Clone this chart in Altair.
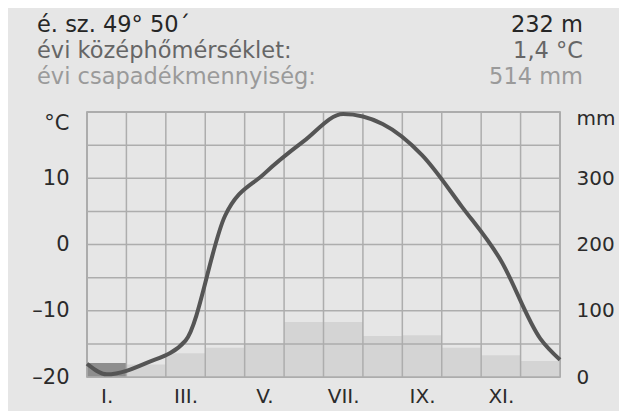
import altair as alt
import pandas as pd

# ---- data ----
month_numbers = list(range(1, 13))
temperature = [-19.6, -17.9, -14.5, 4.3, 10.7, 15.6, 19.7, 18.2, 13.5, 5.8, -2.4, -14.2]
temperature_at_year_edges = [-18.0, -17.4]   # curve value at the Jan start / Dec end
precipitation = [21, 19, 36, 44, 51, 83, 83, 62, 63, 44, 33, 24]
month_tick_labels = ["I.", "III.", "V.", "VII.", "IX.", "XI."]
temp_axis_values = [-20, -10, 0, 10]
temp_grid_values = [-20, -15, -10, -5, 0, 5, 10, 15, 20]
precip_axis_values = [0, 100, 200, 300]
month_boundaries = list(range(0, 13))

header_left = ["é. sz. 49° 50´", "évi középhőmérséklet:", "évi csapadékmennyiség:"]
header_right = ["232 m", "1,4 °C", "514 mm"]
header_colors = ["#262626", "#666666", "#9a9a9a"]

FONT = "DejaVu Sans"
W, H = 473, 265

xscale = alt.Scale(domain=[0, 12], nice=False, zero=False)
tscale = alt.Scale(domain=[-20, 20], nice=False, zero=False)
pscale = alt.Scale(domain=[0, 400], nice=False, zero=False)

label_js = "[" + ",".join("'" + s + "'" for s in month_tick_labels) + "]"
x_axis = alt.Axis(
    values=[m - 0.5 for m in range(1, 13, 2)],
    labelExpr=label_js + "[floor(datum.value / 2)]",
    ticks=False, domain=False, grid=False, title=None,
    labelFont=FONT, labelFontSize=20, labelColor="#2b2b2b",
    labelPadding=9,
)

bars_df = pd.DataFrame({"m": month_numbers, "p": precipitation, "t": temperature})
line_df = pd.DataFrame({
    "x": [0.0] + [m - 0.5 for m in month_numbers] + [12.0],
    "t": [temperature_at_year_edges[0]] + temperature + [temperature_at_year_edges[1]],
})
vgrid_df = pd.DataFrame({"b": month_boundaries})
hgrid_df = pd.DataFrame({"t": temp_grid_values})

bars = alt.Chart(bars_df).transform_calculate(
    x0="datum.m - 1", x1="datum.m",
    humid="datum.p / 10 - 20 > datum.t",
).mark_bar().encode(
    x=alt.X("x0:Q", scale=xscale, axis=x_axis),
    x2="x1:Q",
    y=alt.Y("p:Q", scale=pscale, axis=alt.Axis(
        orient="right", values=precip_axis_values, ticks=False, domain=False,
        grid=False, labelAlign="left", labelPadding=16,
        labelFont=FONT, labelFontSize=20, labelColor="#2b2b2b",
        title="mm", titleAngle=0, titleAlign="left", titleBaseline="middle",
        titleX=16, titleY=6, titleFont=FONT, titleFontSize=20,
        titleFontWeight="normal", titleColor="#2b2b2b",
    )),
    y2=alt.datum(0),
    color=alt.condition("datum.humid", alt.value("#8e8e8e"), alt.value("#d4d4d4")),
)

vgrid = alt.Chart(vgrid_df).mark_rule(color="#adadad", strokeWidth=1.5).encode(
    x=alt.X("b:Q", scale=xscale, axis=x_axis)
)

hgrid = alt.Chart(hgrid_df).mark_rule(color="#adadad", strokeWidth=1.5).encode(
    y=alt.Y("t:Q", scale=tscale, axis=None)
)

line = alt.Chart(line_df).mark_line(
    color="#555555", strokeWidth=4, interpolate="monotone"
).encode(
    x=alt.X("x:Q", scale=xscale, axis=x_axis),
    y=alt.Y("t:Q", scale=tscale, axis=alt.Axis(
        orient="left", values=temp_axis_values, ticks=False, domain=False,
        grid=False, labelPadding=18,
        labelExpr="datum.value < 0 ? '\u2013' + abs(datum.value) : '' + datum.value",
        labelFont=FONT, labelFontSize=21, labelColor="#2b2b2b",
        title="°C", titleAngle=0, titleAlign="right", titleBaseline="middle",
        titleX=-18, titleY=11, titleFont=FONT, titleFontSize=21,
        titleFontWeight="normal", titleColor="#2b2b2b",
    )),
)

header_layers = []
for i, (lt, rt, col) in enumerate(zip(header_left, header_right, header_colors)):
    ypos = -80 + 26 * i
    header_layers.append(
        alt.Chart(pd.DataFrame({"s": [lt]})).mark_text(
            x=-50, y=ypos, align="left", baseline="alphabetic",
            font=FONT, fontSize=22.5, color=col
        ).encode(text="s:N")
    )
    header_layers.append(
        alt.Chart(pd.DataFrame({"s": [rt]})).mark_text(
            x=W + 23, y=ypos, align="right", baseline="alphabetic",
            font=FONT, fontSize=22.5, color=col
        ).encode(text="s:N")
    )

chart = alt.layer(bars, vgrid, hgrid, line, *header_layers).resolve_scale(
    y="independent"
).properties(
    width=W, height=H,
    autosize=alt.AutoSizeParams(type="none"),
    padding={"left": 79, "top": 104, "right": 59, "bottom": 34},
    background="#e6e6e6",
).configure_view(
    fill="white", stroke="#9a9a9a", strokeWidth=1.5
)

chart.save("out.html", embed_options={"renderer": "svg", "actions": False})
